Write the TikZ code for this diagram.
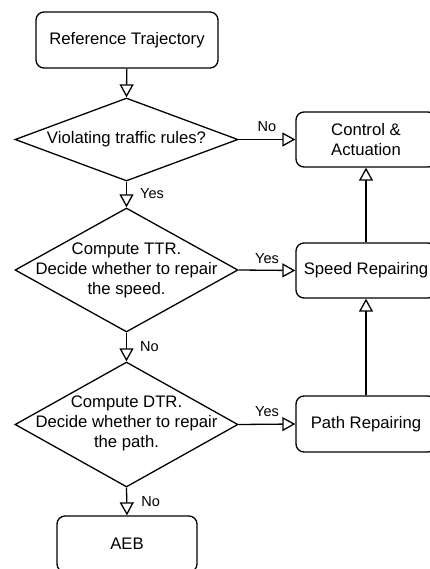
\documentclass[tikz,border=0pt]{standalone}
\usepackage{fontspec}
\setmainfont{Liberation Sans}
\usetikzlibrary{arrows.meta,shapes.geometric}
\begin{document}
\begin{tikzpicture}[x=1pt,y=-1pt,
  every node/.style={font=\fontsize{16.7}{20}\selectfont},
  box/.style={draw,line width=1.3pt,rounded corners=8pt,minimum width=140pt,minimum height=56pt,inner sep=0pt,align=center},
  dec/.style={draw,line width=1.3pt,diamond,minimum width=223pt,minimum height=#1,inner sep=0pt},
  txt/.style={align=center,inner sep=0pt},
  lab/.style={font=\fontsize{14.5}{17}\selectfont,inner sep=0pt},
  arr/.style={line width=1.3pt,-{Triangle[open,length=13pt,width=14pt,line width=1.3pt]}}
]
\useasboundingbox (0,0) rectangle (430,569);
\node[box,minimum width=182pt] (ref) at (127,40) {Reference Trajectory};
\node[dec=83pt] (d1) at (126.5,139.5) {};
\node[txt] (t1) at (d1) {Violating traffic rules?};
\node[dec=124pt] (d2) at (126.5,270) {};
\node[txt] (t2) at (d2) {Compute TTR.\\Decide whether to repair\\the speed.};
\node[dec=125pt] (d3) at (126.5,424.5) {};
\node[txt] (t3) at (126.5,423) {Compute DTR.\\Decide whether to repair\\the path.};
\node[box] (aeb) at (127,544) {AEB};
\node[box,minimum height=55pt] (ctrl) at (366,139.5) {Control \&\\Actuation};
\node[box,minimum height=55pt] (speed) at (366,270.5) {Speed Repairing};
\node[box] (path) at (366,424) {Path Repairing};

\draw[arr] (ref) -- (d1.north);
\draw[arr] (d1.east) -- (ctrl.west) node[lab,pos=0.5,above=7pt] (l1) {No};
\draw[arr] (d1.south) -- (d2.north) node[lab,pos=0.45,right=13pt] (l2) {Yes};
\draw[arr] (d2.east) -- (speed.west) node[lab,pos=0.5,above=6pt] (l3) {Yes};
\draw[arr] (d2.south) -- (d3.north) node[lab,pos=0.5,right=13pt] (l4) {No};
\draw[arr] (d3.east) -- (path.west) node[lab,pos=0.5,above=7pt] (l5) {Yes};
\draw[arr] (d3.south) -- (aeb.north) node[lab,pos=0.5,right=14pt] (l6) {No};
\draw[arr] (speed) -- (ctrl);
\draw[arr] (path) -- (speed);
\end{tikzpicture}
\end{document}
